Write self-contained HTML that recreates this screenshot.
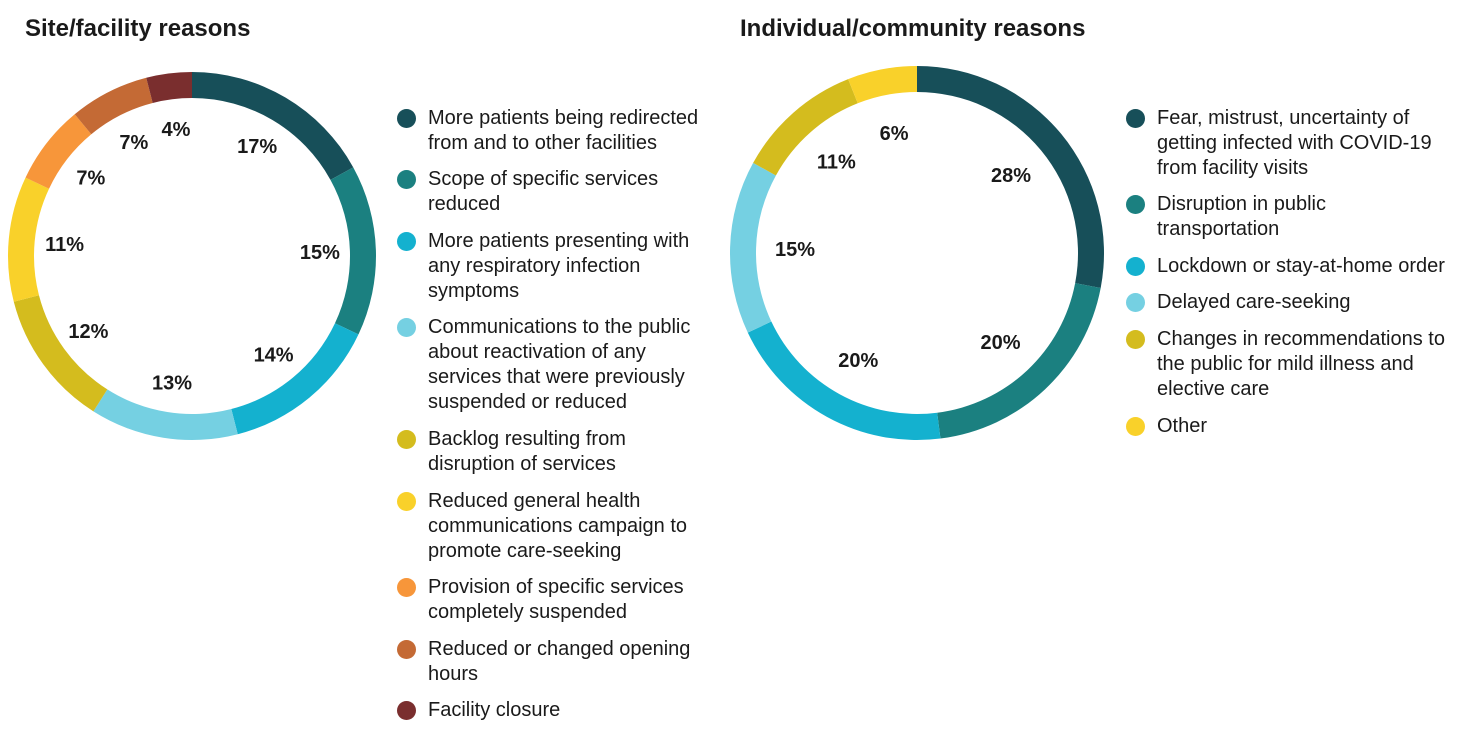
<!DOCTYPE html>
<html><head><meta charset="utf-8">
<style>
body{margin:0;width:1466px;height:740px;background:#fff;font-family:"Liberation Sans",sans-serif;position:relative;overflow:hidden;color:#1a1a1a}
.title{position:absolute;font-weight:bold;font-size:24px;top:15px}
.leg{position:absolute;font-size:20px;line-height:25px}
.dot{position:absolute;width:19px;height:19px;border-radius:50%}
svg{position:absolute;left:0;top:0}
</style></head><body>
<div class="title" style="left:25px">Site/facility reasons</div>
<div class="title" style="left:740px">Individual/community reasons</div>
<svg id="chart" width="1466" height="740"></svg>
<div id="legends"></div>
<script>
const leftCats=["More patients being redirected<br>from and to other facilities","Scope of specific services<br>reduced","More patients presenting with<br>any respiratory infection<br>symptoms","Communications to the public<br>about reactivation of any<br>services that were previously<br>suspended or reduced","Backlog resulting from<br>disruption of services","Reduced general health<br>communications campaign to<br>promote care-seeking","Provision of specific services<br>completely suspended","Reduced or changed opening<br>hours","Facility closure"];
const leftVals=[17,15,14,13,12,11,7,7,4];
const leftColors=["#174f59","#1b8080","#14b1cf","#75d0e2","#d4bc1e","#f9d12a","#f7963a","#c46a35","#7a2e2e"];
const rightCats=["Fear, mistrust, uncertainty of<br>getting infected with COVID-19<br>from facility visits","Disruption in public<br>transportation","Lockdown or stay-at-home order","Delayed care-seeking","Changes in recommendations to<br>the public for mild illness and<br>elective care","Other"];
const rightVals=[28,20,20,15,11,6];
const rightColors=["#174f59","#1b8080","#14b1cf","#75d0e2","#d4bc1e","#f9d12a"];
const NS="http://www.w3.org/2000/svg";
const svg=document.getElementById('chart');
function donut(vals,colors,cx,cy,ro,ri,rl,prefix){
  const tot=vals.reduce((a,b)=>a+b,0);let acc=0;
  vals.forEach((v,i)=>{
    const a0=acc/tot*2*Math.PI;acc+=v;const a1=acc/tot*2*Math.PI;
    const p=(a,r)=>[cx+Math.sin(a)*r,cy-Math.cos(a)*r];
    const lg=(a1-a0)>Math.PI?1:0;
    const [x0,y0]=p(a0,ro),[x1,y1]=p(a1,ro),[x2,y2]=p(a1,ri),[x3,y3]=p(a0,ri);
    const path=document.createElementNS(NS,'path');
    path.setAttribute('d',`M${x0},${y0}A${ro},${ro} 0 ${lg} 1 ${x1},${y1}L${x2},${y2}A${ri},${ri} 0 ${lg} 0 ${x3},${y3}Z`);
    path.setAttribute('fill',colors[i]);
    
    
    svg.appendChild(path);
    const am=(a0+a1)/2;const [lx,ly]=p(am,rl);
    const t=document.createElementNS(NS,'text');
    t.setAttribute('x',lx);t.setAttribute('y',ly+7);t.setAttribute('text-anchor','middle');
    t.setAttribute('font-size','20');t.setAttribute('font-weight','bold');t.setAttribute('fill','#1a1a1a');
    t.setAttribute('font-family','Liberation Sans, sans-serif');
    t.textContent=v+'%';
    
    
    svg.appendChild(t);
  });
}
donut(leftVals,leftColors,192,256,184,158,128,'left');
donut(rightVals,rightColors,917,253,187,161,122,'right');
const L=document.getElementById('legends');
function legend(cats,colors,dx,tx,tops,prefix){
  cats.forEach((c,i)=>{
    const d=document.createElement('div');d.className='dot';
    d.style.left=dx+'px';d.style.top=(tops[i]+3)+'px';d.style.background=colors[i];
    
    
    L.appendChild(d);
    const t=document.createElement('div');t.className='leg';
    t.style.left=tx+'px';t.style.top=tops[i]+'px';t.innerHTML=c;
    
    
    L.appendChild(t);
  });
}
legend(leftCats,leftColors,397,428,[106,167,229,315,427,489,575,637,698],'left');
legend(rightCats,rightColors,1126,1157,[106,192,254,290,327,414],'right');
</script>
</body></html>
